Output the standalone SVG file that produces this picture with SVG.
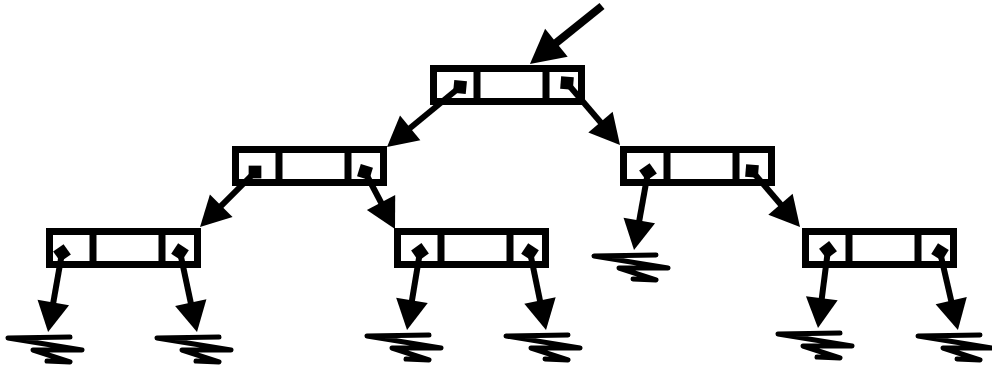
<svg xmlns="http://www.w3.org/2000/svg" width="992" height="365" viewBox="0 0 992 365">
<style>
.box{fill:#fff;stroke:#000;stroke-width:7}
.div{stroke:#000;stroke-width:7}
.ln{stroke:#000;stroke-width:6;fill:none;marker-start:url(#dot);marker-end:url(#ah)}
.gnd{fill:none;stroke:#000;stroke-width:5;stroke-linecap:round;stroke-linejoin:round}
</style>
<defs>
<marker id="ah" markerUnits="userSpaceOnUse" markerWidth="40" markerHeight="40" refX="4" refY="16" orient="auto" viewBox="0 0 40 40" overflow="visible">
<path d="M0,0 L30,16 L0,32 Z" fill="#000"/>
</marker>
<marker id="ahBig" markerUnits="userSpaceOnUse" markerWidth="40" markerHeight="40" refX="4" refY="18" orient="auto" viewBox="0 0 40 40" overflow="visible">
<path d="M0,0 L34,18 L0,36 Z" fill="#000"/>
</marker>
<marker id="dot" markerUnits="userSpaceOnUse" markerWidth="20" markerHeight="20" refX="10" refY="10" orient="auto" viewBox="0 0 20 20" overflow="visible">
<path d="M1,10 L10,1 L19,10 L10,19 Z" fill="#000"/>
</marker>
<g id="cell">
<rect class="box" x="3.5" y="3.5" width="148" height="33"/>
<line class="div" x1="47" y1="0" x2="47" y2="40"/>
<line class="div" x1="116" y1="0" x2="116" y2="40"/>
</g>
<path id="g" class="gnd" d="M22,5 L-40,6 L34,18 L-15,18 L22,30 L-1,29"/>
</defs>
<g id="root"><use href="#cell" x="430" y="65"/></g>
<g id="node-l1"><use href="#cell" x="232" y="146"/></g>
<g id="node-r1"><use href="#cell" x="620" y="146"/></g>
<g id="node-ll"><use href="#cell" x="46" y="228"/></g>
<g id="node-lr"><use href="#cell" x="394" y="228"/></g>
<g id="node-rr"><use href="#cell" x="802" y="228"/></g>
<g id="connectors">
<line x1="602" y1="6" x2="553.3" y2="45.2" stroke="#000" stroke-width="8" marker-end="url(#ahBig)"/>
<line class="ln" x1="460" y1="87" x2="407.1" y2="130.5"/>
<line class="ln" x1="567" y1="83" x2="603.1" y2="125.2"/>
<line class="ln" x1="255" y1="172" x2="218.4" y2="208.6"/>
<line class="ln" x1="365" y1="172" x2="382.9" y2="206"/>
<line class="ln" x1="648" y1="172" x2="638.6" y2="224.4"/>
<line class="ln" x1="752" y1="171" x2="783.1" y2="207.3"/>
<line class="ln" x1="62" y1="253" x2="52.6" y2="306.4"/>
<line class="ln" x1="180" y1="252" x2="191.6" y2="306.6"/>
<line class="ln" x1="420" y1="252" x2="411.3" y2="304.4"/>
<line class="ln" x1="530" y1="252" x2="540.8" y2="304.5"/>
<line class="ln" x1="828" y1="250" x2="821.3" y2="302.2"/>
<line class="ln" x1="940" y1="252" x2="952.1" y2="304.6"/>
</g>
<g id="grounds">
<use href="#g" x="48" y="332"/>
<use href="#g" x="197" y="332"/>
<use href="#g" x="634" y="250"/>
<use href="#g" x="407" y="330"/>
<use href="#g" x="546" y="330"/>
<use href="#g" x="818" y="328"/>
<use href="#g" x="958" y="330"/>
</g>
</svg>
